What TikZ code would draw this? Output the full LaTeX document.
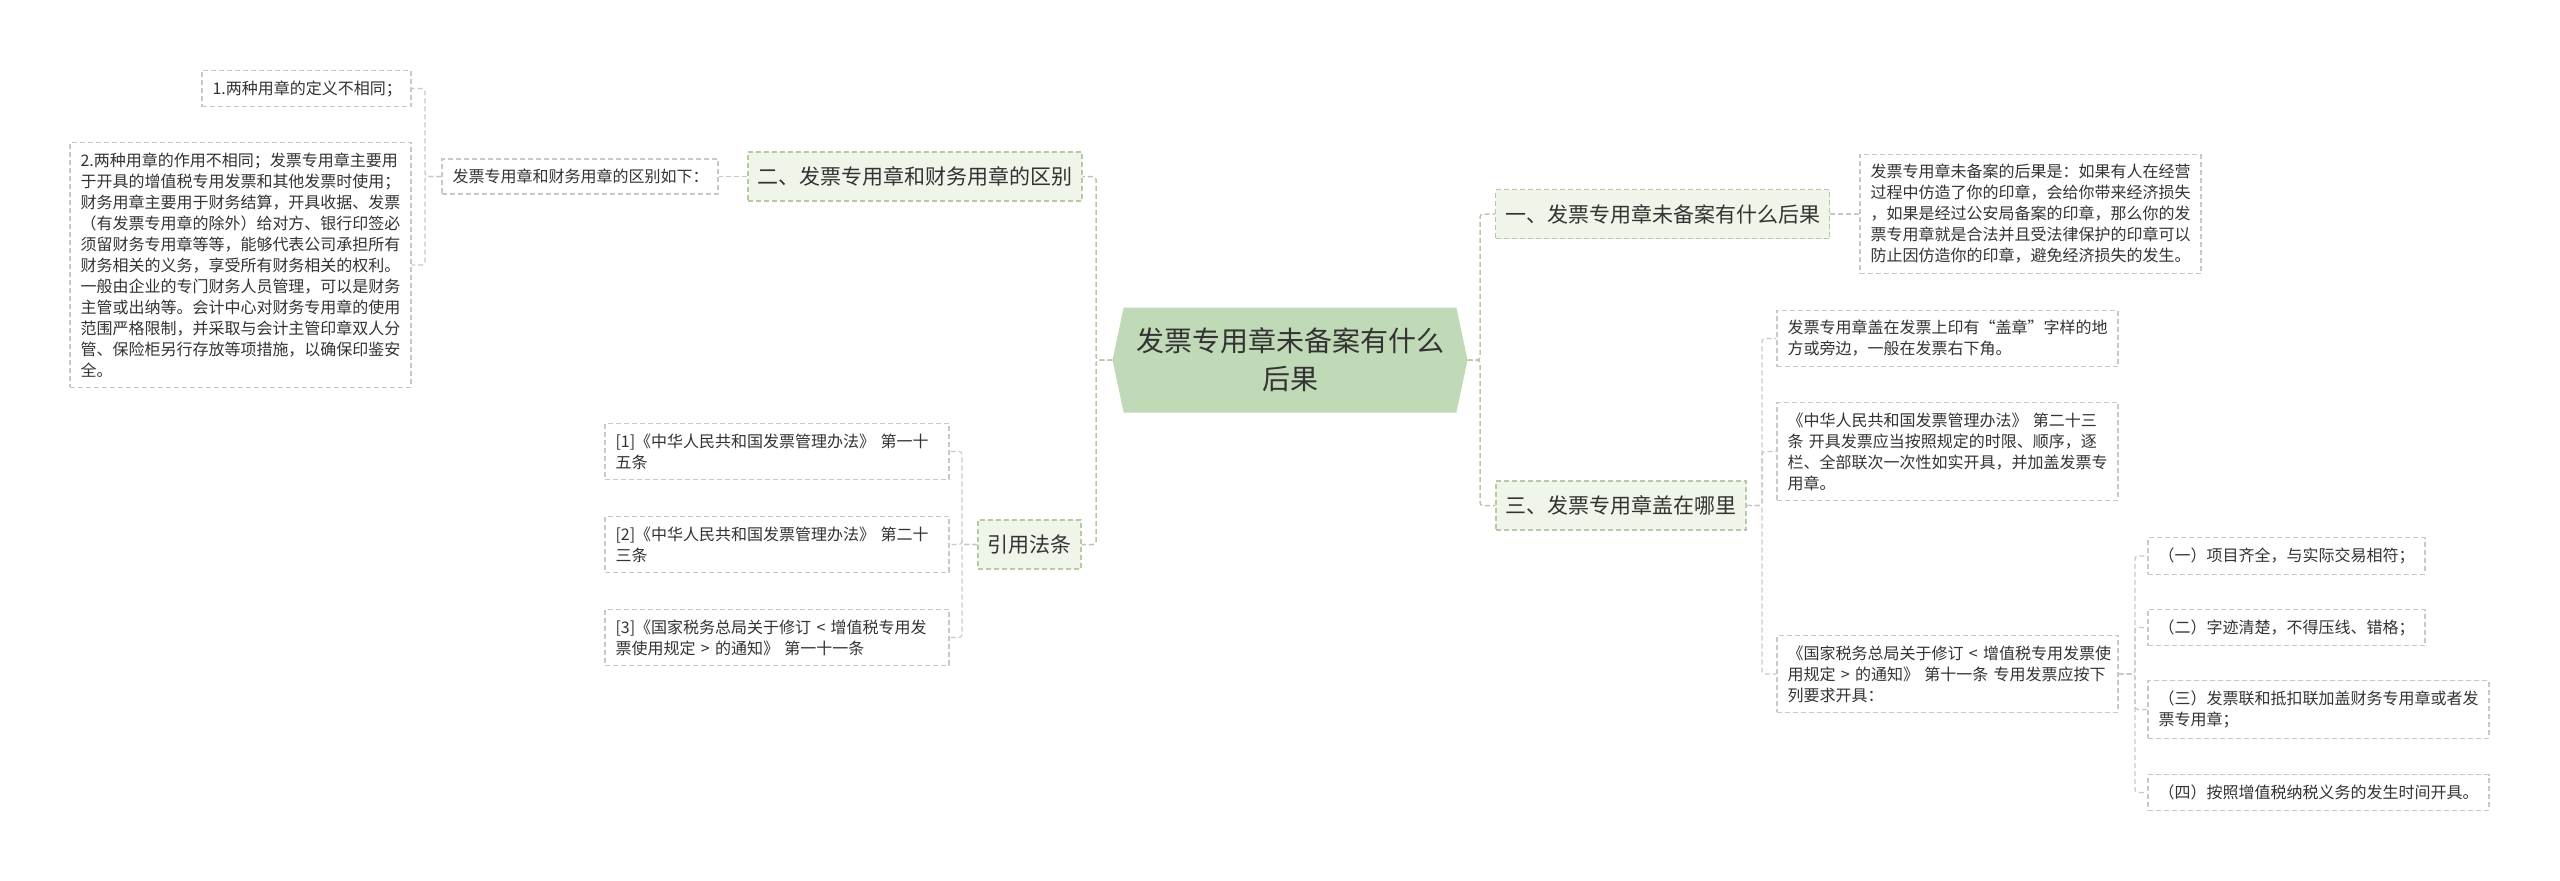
\documentclass[tikz,border=0pt]{standalone}
\usepackage{fontspec}
\setmainfont{Noto Sans CJK SC}
\usetikzlibrary{shapes.symbols}
\definecolor{rootfill}{HTML}{C0D9B6}
\definecolor{topfill}{HTML}{EFF5E8}
\definecolor{topline}{HTML}{B7C9A6}
\definecolor{leafline}{HTML}{C8C8C8}
\definecolor{ink}{HTML}{333333}
\tikzset{
  rootnode/.style={shape=signal,signal to=west and east,signal pointer angle=156,
    fill=rootfill,text=ink,font=\fontsize{28}{38}\selectfont,align=center,
    minimum width=355pt,minimum height=105pt,inner sep=0pt},
  topic/.style={draw=topline,fill=topfill,dash pattern=on 5pt off 3pt,line width=1.3pt,
    font=\fontsize{21}{27}\selectfont,text=ink,inner xsep=9.5pt,minimum height=49pt},
  leaf/.style={draw=leafline,fill=white,dash pattern=on 5pt off 3pt,line width=1.2pt,
    font=\fontsize{16}{21}\selectfont,text=ink,align=left,inner xsep=10.5pt,inner ysep=10pt},
  trunk/.style={draw=topline,line width=1.5pt,dash pattern=on 5pt off 3pt,rounded corners=3pt},
  twig/.style={draw=leafline,line width=1.2pt,dash pattern=on 5pt off 3pt,rounded corners=3pt}
}

\begin{document}
\begin{tikzpicture}[x=1pt,y=-1pt]
\useasboundingbox (0,0) rectangle (2560,881);

% Central topic
\node[rootnode] (root) at (1290,360) {发票专用章未备案有什么\\后果};

% Main branches
\node[topic] (two) at (915,176.5) {二、发票专用章和财务用章的区别};
\node[topic] (cite) at (1029.5,544.5) {引用法条};
\node[topic] (one) at (1662.5,214) {一、发票专用章未备案有什么后果};
\node[topic] (three) at (1621,505.5) {三、发票专用章盖在哪里};

% Left side leaves
\node[leaf,text width=255pt] (diff) at (580,176.5) {发票专用章和财务用章的区别如下：};
\node[leaf,text width=188pt] (d1) at (306.5,88.5) {1.两种用章的定义不相同；};
\node[leaf,text width=320pt] (d2) at (240.5,265) {2.两种用章的作用不相同；发票专用章主要用\\
于开具的增值税专用发票和其他发票时使用；\\
财务用章主要用于财务结算，开具收据、发票\\
（有发票专用章的除外）给对方、银行印签必\\
须留财务专用章等等，能够代表公司承担所有\\
财务相关的义务，享受所有财务相关的权利。\\
一般由企业的专门财务人员管理，可以是财务\\
主管或出纳等。会计中心对财务专用章的使用\\
范围严格限制，并采取与会计主管印章双人分\\
管、保险柜另行存放等项措施，以确保印鉴安\\
全。};
\node[leaf,text width=323pt] (r1) at (777,451.5) {[1]《中华人民共和国发票管理办法》~第一十\\五条};
\node[leaf,text width=323pt] (r2) at (777,544.5) {[2]《中华人民共和国发票管理办法》~第二十\\三条};
\node[leaf,text width=323pt] (r3) at (777,637.5) {[3]《国家税务总局关于修订~<~增值税专用发\\票使用规定~>~的通知》~第一十一条};

% Right side leaves
\node[leaf,text width=320pt] (ans) at (2030.5,214) {发票专用章未备案的后果是：如果有人在经营\\
过程中仿造了你的印章，会给你带来经济损失\\
，如果是经过公安局备案的印章，那么你的发\\
票专用章就是合法并且受法律保护的印章可以\\
防止因仿造你的印章，避免经济损失的发生。};
\node[leaf,text width=320pt] (a) at (1947.5,338.5) {发票专用章盖在发票上印有“盖章”字样的地\\方或旁边，一般在发票右下角。};
\node[leaf,text width=320pt] (b) at (1947.5,451.5) {《中华人民共和国发票管理办法》~第二十三\\
条~开具发票应当按照规定的时限、顺序，逐\\
栏、全部联次一次性如实开具，并加盖发票专\\
用章。};
\node[leaf,text width=320pt] (c) at (1947.5,674) {《国家税务总局关于修订~<~增值税专用发票使\\
用规定~>~的通知》~第十一条~专用发票应按下\\
列要求开具：};
\node[leaf,text width=256pt] (c1) at (2286.5,556) {（一）项目齐全，与实际交易相符；};
\node[leaf,text width=256pt] (c2) at (2286.5,627.5) {（二）字迹清楚，不得压线、错格；};
\node[leaf,text width=320pt] (c3) at (2318.5,709.5) {（三）发票联和抵扣联加盖财务专用章或者发\\票专用章；};
\node[leaf,text width=320pt] (c4) at (2318.5,792.5) {（四）按照增值税纳税义务的发生时间开具。};

% Junction points
\coordinate (jl) at (1096,360);
\coordinate (jr) at (1480,360);
\coordinate (jd) at (425,176.5);
\coordinate (jc) at (962,544.5);
\coordinate (jt) at (1762,505.5);
\coordinate (jk) at (2135,674);

% Root edges
\draw[trunk] (root.west) -- (jl) |- (two.east);
\draw[trunk] (root.west) -- (jl) |- (cite.east);
\draw[trunk] (root.east) -- (jr) |- (one.west);
\draw[trunk] (root.east) -- (jr) |- (three.west);

% Leaf edges
\draw[twig] (two.west) -- (diff.east);
\draw[twig] (diff.west) -- (jd) |- (d1.east);
\draw[twig] (diff.west) -- (jd) |- (d2.east);
\draw[twig] (cite.west) -- (jc) |- (r1.east);
\draw[twig] (cite.west) -- (jc) |- (r2.east);
\draw[twig] (cite.west) -- (jc) |- (r3.east);
\draw[twig] (one.east) -- (ans.west);
\draw[twig] (three.east) -- (jt) |- (a.west);
\draw[twig] (three.east) -- (jt) |- (b.west);
\draw[twig] (three.east) -- (jt) |- (c.west);
\draw[twig] (c.east) -- (jk) |- (c1.west);
\draw[twig] (c.east) -- (jk) |- (c2.west);
\draw[twig] (c.east) -- (jk) |- (c3.west);
\draw[twig] (c.east) -- (jk) |- (c4.west);

\end{tikzpicture}
\end{document}
